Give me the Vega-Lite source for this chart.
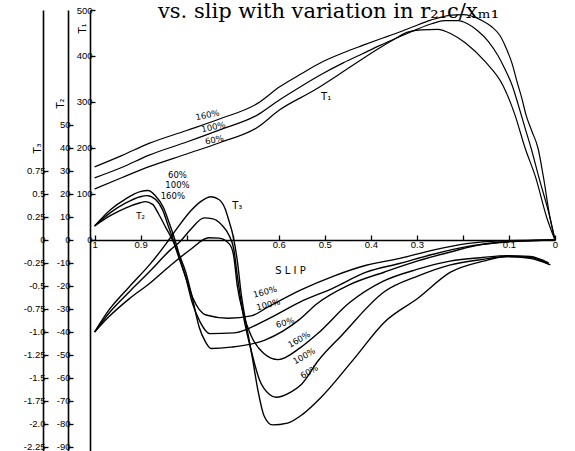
{
  "$schema": "https://vega.github.io/schema/vega-lite/v6.json",
  "width": 465,
  "height": 441,
  "autosize": {"type": "none"},
  "padding": {"left": 90, "top": 10, "right": 20, "bottom": 0},
  "background": "white",
  "config": {
    "view": {"stroke": null},
    "axis": {"domainColor": "black", "tickColor": "black", "labelColor": "black", "titleColor": "black", "labelFont": "Liberation Sans", "titleFont": "DejaVu Sans", "labelFontSize": 9.5, "grid": false, "domainWidth": 1.6, "tickWidth": 1.3},
    "text": {"font": "DejaVu Sans", "fontSize": 8.5, "color": "black"}
  },
  "title": {"text": "vs. slip with variation in r₂₁c/xₘ₁", "font": "DejaVu Serif", "fontSize": 21, "fontWeight": "normal", "color": "black", "anchor": "middle", "offset": -17, "dx": 6},
  "datasets": {
    "upper": [
      {"pct": "160%", "slip": 1.0, "T1": 159}, {"pct": "160%", "slip": 0.94, "T1": 184}, {"pct": "160%", "slip": 0.882, "T1": 210}, {"pct": "160%", "slip": 0.8, "T1": 238}, {"pct": "160%", "slip": 0.726, "T1": 264}, {"pct": "160%", "slip": 0.646, "T1": 297}, {"pct": "160%", "slip": 0.598, "T1": 333}, {"pct": "160%", "slip": 0.55, "T1": 362}, {"pct": "160%", "slip": 0.504, "T1": 388}, {"pct": "160%", "slip": 0.46, "T1": 407}, {"pct": "160%", "slip": 0.418, "T1": 423}, {"pct": "160%", "slip": 0.38, "T1": 437}, {"pct": "160%", "slip": 0.346, "T1": 449}, {"pct": "160%", "slip": 0.31, "T1": 463}, {"pct": "160%", "slip": 0.27, "T1": 478}, {"pct": "160%", "slip": 0.225, "T1": 489}, {"pct": "160%", "slip": 0.2, "T1": 490}, {"pct": "160%", "slip": 0.182, "T1": 487}, {"pct": "160%", "slip": 0.16, "T1": 478}, {"pct": "160%", "slip": 0.138, "T1": 464}, {"pct": "160%", "slip": 0.12, "T1": 445}, {"pct": "160%", "slip": 0.106, "T1": 417}, {"pct": "160%", "slip": 0.093, "T1": 383}, {"pct": "160%", "slip": 0.083, "T1": 346}, {"pct": "160%", "slip": 0.072, "T1": 308}, {"pct": "160%", "slip": 0.063, "T1": 272}, {"pct": "160%", "slip": 0.05, "T1": 236}, {"pct": "160%", "slip": 0.037, "T1": 200}, {"pct": "160%", "slip": 0.025, "T1": 136}, {"pct": "160%", "slip": 0.011, "T1": 49}, {"pct": "160%", "slip": 0.0, "T1": 0},
      {"pct": "100%", "slip": 1.0, "T1": 135}, {"pct": "100%", "slip": 0.94, "T1": 158}, {"pct": "100%", "slip": 0.883, "T1": 184}, {"pct": "100%", "slip": 0.8, "T1": 213}, {"pct": "100%", "slip": 0.727, "T1": 240}, {"pct": "100%", "slip": 0.646, "T1": 272}, {"pct": "100%", "slip": 0.598, "T1": 305}, {"pct": "100%", "slip": 0.55, "T1": 335}, {"pct": "100%", "slip": 0.504, "T1": 362}, {"pct": "100%", "slip": 0.46, "T1": 385}, {"pct": "100%", "slip": 0.418, "T1": 405}, {"pct": "100%", "slip": 0.38, "T1": 423}, {"pct": "100%", "slip": 0.346, "T1": 438}, {"pct": "100%", "slip": 0.3, "T1": 458}, {"pct": "100%", "slip": 0.268, "T1": 470}, {"pct": "100%", "slip": 0.24, "T1": 477}, {"pct": "100%", "slip": 0.21, "T1": 477}, {"pct": "100%", "slip": 0.19, "T1": 470}, {"pct": "100%", "slip": 0.168, "T1": 455}, {"pct": "100%", "slip": 0.145, "T1": 432}, {"pct": "100%", "slip": 0.124, "T1": 401}, {"pct": "100%", "slip": 0.108, "T1": 370}, {"pct": "100%", "slip": 0.093, "T1": 336}, {"pct": "100%", "slip": 0.076, "T1": 281}, {"pct": "100%", "slip": 0.064, "T1": 240}, {"pct": "100%", "slip": 0.052, "T1": 200}, {"pct": "100%", "slip": 0.035, "T1": 136}, {"pct": "100%", "slip": 0.011, "T1": 49}, {"pct": "100%", "slip": 0.0, "T1": 0},
      {"pct": "60%", "slip": 1.0, "T1": 111}, {"pct": "60%", "slip": 0.94, "T1": 136}, {"pct": "60%", "slip": 0.88, "T1": 160}, {"pct": "60%", "slip": 0.8, "T1": 187}, {"pct": "60%", "slip": 0.727, "T1": 212}, {"pct": "60%", "slip": 0.646, "T1": 245}, {"pct": "60%", "slip": 0.598, "T1": 283}, {"pct": "60%", "slip": 0.524, "T1": 325}, {"pct": "60%", "slip": 0.454, "T1": 370}, {"pct": "60%", "slip": 0.39, "T1": 412}, {"pct": "60%", "slip": 0.35, "T1": 436}, {"pct": "60%", "slip": 0.32, "T1": 452}, {"pct": "60%", "slip": 0.29, "T1": 457}, {"pct": "60%", "slip": 0.255, "T1": 458}, {"pct": "60%", "slip": 0.225, "T1": 448}, {"pct": "60%", "slip": 0.195, "T1": 429}, {"pct": "60%", "slip": 0.151, "T1": 387}, {"pct": "60%", "slip": 0.113, "T1": 336}, {"pct": "60%", "slip": 0.087, "T1": 272}, {"pct": "60%", "slip": 0.065, "T1": 200}, {"pct": "60%", "slip": 0.042, "T1": 136}, {"pct": "60%", "slip": 0.018, "T1": 49}, {"pct": "60%", "slip": 0.0, "T1": 0}
    ],
    "upperLabels": [
      {"kind": "tilt", "label": "160%", "slip": 0.755, "T1": 272},
      {"kind": "tilt", "label": "100%", "slip": 0.742, "T1": 246},
      {"kind": "tilt", "label": "60%", "slip": 0.74, "T1": 218},
      {"kind": "flat", "label": "T₁", "slip": 0.497, "T1": 310}
    ],
    "familyA": [
      {"pct": "60%", "slip": 1.0, "T2": 6.1}, {"pct": "60%", "slip": 0.965, "T2": 13.3}, {"pct": "60%", "slip": 0.933, "T2": 17.8}, {"pct": "60%", "slip": 0.901, "T2": 21}, {"pct": "60%", "slip": 0.884, "T2": 21.5}, {"pct": "60%", "slip": 0.869, "T2": 19.5}, {"pct": "60%", "slip": 0.85, "T2": 13.9}, {"pct": "60%", "slip": 0.838, "T2": 7.4}, {"pct": "60%", "slip": 0.827, "T2": 1}, {"pct": "60%", "slip": 0.817, "T2": -5.7}, {"pct": "60%", "slip": 0.802, "T2": -14}, {"pct": "60%", "slip": 0.788, "T2": -25}, {"pct": "60%", "slip": 0.773, "T2": -37.8}, {"pct": "60%", "slip": 0.76, "T2": -44}, {"pct": "60%", "slip": 0.747, "T2": -47.2}, {"pct": "60%", "slip": 0.704, "T2": -46.6}, {"pct": "60%", "slip": 0.63, "T2": -43.5}, {"pct": "60%", "slip": 0.554, "T2": -34.4}, {"pct": "60%", "slip": 0.517, "T2": -27.7}, {"pct": "60%", "slip": 0.447, "T2": -19.5}, {"pct": "60%", "slip": 0.37, "T2": -13.9}, {"pct": "60%", "slip": 0.298, "T2": -9.1}, {"pct": "60%", "slip": 0.227, "T2": -5.2}, {"pct": "60%", "slip": 0.156, "T2": -1.8}, {"pct": "60%", "slip": 0.076, "T2": -0.4}, {"pct": "60%", "slip": 0.0, "T2": 0},
      {"pct": "100%", "slip": 1.0, "T2": 6.1}, {"pct": "100%", "slip": 0.965, "T2": 12}, {"pct": "100%", "slip": 0.933, "T2": 16}, {"pct": "100%", "slip": 0.901, "T2": 18.8}, {"pct": "100%", "slip": 0.886, "T2": 19.3}, {"pct": "100%", "slip": 0.868, "T2": 17.7}, {"pct": "100%", "slip": 0.852, "T2": 13}, {"pct": "100%", "slip": 0.84, "T2": 6.1}, {"pct": "100%", "slip": 0.829, "T2": 0}, {"pct": "100%", "slip": 0.817, "T2": -6.9}, {"pct": "100%", "slip": 0.802, "T2": -16.3}, {"pct": "100%", "slip": 0.788, "T2": -27.2}, {"pct": "100%", "slip": 0.771, "T2": -35.6}, {"pct": "100%", "slip": 0.75, "T2": -40.7}, {"pct": "100%", "slip": 0.697, "T2": -40.4}, {"pct": "100%", "slip": 0.628, "T2": -34.8}, {"pct": "100%", "slip": 0.554, "T2": -27}, {"pct": "100%", "slip": 0.483, "T2": -21}, {"pct": "100%", "slip": 0.41, "T2": -14}, {"pct": "100%", "slip": 0.338, "T2": -10.2}, {"pct": "100%", "slip": 0.265, "T2": -6.2}, {"pct": "100%", "slip": 0.192, "T2": -2.9}, {"pct": "100%", "slip": 0.12, "T2": -1.1}, {"pct": "100%", "slip": 0.0, "T2": 0},
      {"pct": "160%", "slip": 1.0, "T2": 6.1}, {"pct": "160%", "slip": 0.965, "T2": 10.7}, {"pct": "160%", "slip": 0.933, "T2": 13.9}, {"pct": "160%", "slip": 0.901, "T2": 16.2}, {"pct": "160%", "slip": 0.89, "T2": 16.7}, {"pct": "160%", "slip": 0.874, "T2": 15.5}, {"pct": "160%", "slip": 0.861, "T2": 11.3}, {"pct": "160%", "slip": 0.845, "T2": 5.3}, {"pct": "160%", "slip": 0.829, "T2": -0.8}, {"pct": "160%", "slip": 0.817, "T2": -7.6}, {"pct": "160%", "slip": 0.802, "T2": -16.3}, {"pct": "160%", "slip": 0.787, "T2": -25}, {"pct": "160%", "slip": 0.758, "T2": -32.6}, {"pct": "160%", "slip": 0.71, "T2": -34}, {"pct": "160%", "slip": 0.66, "T2": -33}, {"pct": "160%", "slip": 0.624, "T2": -29.2}, {"pct": "160%", "slip": 0.553, "T2": -21.8}, {"pct": "160%", "slip": 0.482, "T2": -15.8}, {"pct": "160%", "slip": 0.41, "T2": -11}, {"pct": "160%", "slip": 0.337, "T2": -8}, {"pct": "160%", "slip": 0.265, "T2": -4.4}, {"pct": "160%", "slip": 0.192, "T2": -1.6}, {"pct": "160%", "slip": 0.12, "T2": -0.4}, {"pct": "160%", "slip": 0.0, "T2": 0}
    ],
    "labelsA": [
      {"kind": "flat", "label": "60%", "slip": 0.82, "T2": 28.4},
      {"kind": "flat", "label": "100%", "slip": 0.82, "T2": 24.1},
      {"kind": "flat", "label": "160%", "slip": 0.83, "T2": 19.3},
      {"kind": "flat", "label": "T₂", "slip": 0.9, "T2": 10.6},
      {"kind": "tilt", "label": "160%", "slip": 0.63, "T2": -22.5},
      {"kind": "tilt", "label": "100%", "slip": 0.623, "T2": -28},
      {"kind": "tilt", "label": "60%", "slip": 0.586, "T2": -35.9}
    ],
    "familyB": [
      {"pct": "60%", "slip": 1.0, "Tx": -1.0}, {"pct": "60%", "slip": 0.968, "Tx": -0.755}, {"pct": "60%", "slip": 0.925, "Tx": -0.51}, {"pct": "60%", "slip": 0.88, "Tx": -0.265}, {"pct": "60%", "slip": 0.845, "Tx": -0.043}, {"pct": "60%", "slip": 0.823, "Tx": 0.112}, {"pct": "60%", "slip": 0.79, "Tx": 0.323}, {"pct": "60%", "slip": 0.769, "Tx": 0.42}, {"pct": "60%", "slip": 0.747, "Tx": 0.47}, {"pct": "60%", "slip": 0.73, "Tx": 0.44}, {"pct": "60%", "slip": 0.717, "Tx": 0.345}, {"pct": "60%", "slip": 0.708, "Tx": 0.205}, {"pct": "60%", "slip": 0.699, "Tx": 0.04}, {"pct": "60%", "slip": 0.69, "Tx": -0.228}, {"pct": "60%", "slip": 0.681, "Tx": -0.608}, {"pct": "60%", "slip": 0.67, "Tx": -0.935}, {"pct": "60%", "slip": 0.658, "Tx": -1.26}, {"pct": "60%", "slip": 0.645, "Tx": -1.64}, {"pct": "60%", "slip": 0.632, "Tx": -1.91}, {"pct": "60%", "slip": 0.614, "Tx": -2.01}, {"pct": "60%", "slip": 0.581, "Tx": -1.99}, {"pct": "60%", "slip": 0.547, "Tx": -1.89}, {"pct": "60%", "slip": 0.51, "Tx": -1.72}, {"pct": "60%", "slip": 0.438, "Tx": -1.3}, {"pct": "60%", "slip": 0.37, "Tx": -0.89}, {"pct": "60%", "slip": 0.297, "Tx": -0.63}, {"pct": "60%", "slip": 0.227, "Tx": -0.35}, {"pct": "60%", "slip": 0.156, "Tx": -0.23}, {"pct": "60%", "slip": 0.104, "Tx": -0.18}, {"pct": "60%", "slip": 0.054, "Tx": -0.2}, {"pct": "60%", "slip": 0.01, "Tx": -0.27},
      {"pct": "100%", "slip": 1.0, "Tx": -1.0}, {"pct": "100%", "slip": 0.968, "Tx": -0.79}, {"pct": "100%", "slip": 0.925, "Tx": -0.565}, {"pct": "100%", "slip": 0.88, "Tx": -0.34}, {"pct": "100%", "slip": 0.836, "Tx": -0.11}, {"pct": "100%", "slip": 0.813, "Tx": -0.01}, {"pct": "100%", "slip": 0.791, "Tx": 0.116}, {"pct": "100%", "slip": 0.762, "Tx": 0.24}, {"pct": "100%", "slip": 0.743, "Tx": 0.23}, {"pct": "100%", "slip": 0.725, "Tx": 0.17}, {"pct": "100%", "slip": 0.707, "Tx": 0.04}, {"pct": "100%", "slip": 0.698, "Tx": -0.09}, {"pct": "100%", "slip": 0.69, "Tx": -0.39}, {"pct": "100%", "slip": 0.677, "Tx": -0.82}, {"pct": "100%", "slip": 0.66, "Tx": -1.2}, {"pct": "100%", "slip": 0.642, "Tx": -1.52}, {"pct": "100%", "slip": 0.62, "Tx": -1.68}, {"pct": "100%", "slip": 0.606, "Tx": -1.71}, {"pct": "100%", "slip": 0.573, "Tx": -1.65}, {"pct": "100%", "slip": 0.551, "Tx": -1.57}, {"pct": "100%", "slip": 0.514, "Tx": -1.31}, {"pct": "100%", "slip": 0.464, "Tx": -1.04}, {"pct": "100%", "slip": 0.37, "Tx": -0.56}, {"pct": "100%", "slip": 0.297, "Tx": -0.39}, {"pct": "100%", "slip": 0.227, "Tx": -0.27}, {"pct": "100%", "slip": 0.156, "Tx": -0.21}, {"pct": "100%", "slip": 0.104, "Tx": -0.18}, {"pct": "100%", "slip": 0.054, "Tx": -0.19}, {"pct": "100%", "slip": 0.014, "Tx": -0.26},
      {"pct": "160%", "slip": 1.0, "Tx": -1.0}, {"pct": "160%", "slip": 0.968, "Tx": -0.83}, {"pct": "160%", "slip": 0.925, "Tx": -0.64}, {"pct": "160%", "slip": 0.88, "Tx": -0.47}, {"pct": "160%", "slip": 0.836, "Tx": -0.28}, {"pct": "160%", "slip": 0.791, "Tx": -0.1}, {"pct": "160%", "slip": 0.752, "Tx": 0.025}, {"pct": "160%", "slip": 0.73, "Tx": 0.02}, {"pct": "160%", "slip": 0.707, "Tx": -0.045}, {"pct": "160%", "slip": 0.698, "Tx": -0.17}, {"pct": "160%", "slip": 0.69, "Tx": -0.5}, {"pct": "160%", "slip": 0.677, "Tx": -0.8}, {"pct": "160%", "slip": 0.66, "Tx": -1.04}, {"pct": "160%", "slip": 0.633, "Tx": -1.23}, {"pct": "160%", "slip": 0.601, "Tx": -1.3}, {"pct": "160%", "slip": 0.553, "Tx": -1.17}, {"pct": "160%", "slip": 0.516, "Tx": -1.02}, {"pct": "160%", "slip": 0.446, "Tx": -0.68}, {"pct": "160%", "slip": 0.374, "Tx": -0.45}, {"pct": "160%", "slip": 0.3, "Tx": -0.32}, {"pct": "160%", "slip": 0.228, "Tx": -0.23}, {"pct": "160%", "slip": 0.157, "Tx": -0.19}, {"pct": "160%", "slip": 0.104, "Tx": -0.17}, {"pct": "160%", "slip": 0.054, "Tx": -0.18}, {"pct": "160%", "slip": 0.014, "Tx": -0.25}
    ],
    "labelsB": [
      {"kind": "flat", "label": "T₃", "slip": 0.69, "Tx": 0.37},
      {"kind": "tilt", "label": "160%", "slip": 0.556, "Tx": -1.08},
      {"kind": "tilt", "label": "100%", "slip": 0.545, "Tx": -1.26},
      {"kind": "tilt", "label": "60%", "slip": 0.534, "Tx": -1.43}
    ]
  },
  "encoding": {
    "x": {
      "field": "slip",
      "type": "quantitative",
      "scale": {"domain": [1.01, 0], "nice": false, "zero": false},
      "axis": {
        "values": [1, 0.9, 0.8, 0.7, 0.6, 0.5, 0.4, 0.3, 0.2, 0.1, 0],
        "labelExpr": "indexof([0.8, 0.7, 0.2], datum.value) >= 0 ? '' : '' + datum.value",
        "offset": -211,
        "tickSize": -5,
        "labelPadding": 4,
        "labelFlush": false,
        "title": "S L I P",
        "titleX": 200,
        "titleY": 25,
        "titleFontSize": 10,
        "titleFontWeight": "normal",
        "domainWidth": 1.3
      }
    }
  },
  "layer": [
    {
      "encoding": {
        "y": {
          "field": "T1",
          "type": "quantitative",
          "scale": {"domain": [-458.7, 500], "nice": false, "zero": false},
          "axis": {"orient": "left", "offset": 0, "values": [0, 100, 200, 300, 400, 500], "labelExpr": "'' + datum.value", "tickSize": -5, "labelPadding": 3, "title": "T₁", "titleX": -8, "titleY": 18, "titleFontSize": 10, "titleFontWeight": "normal", "titleAlign": "center", "titleBaseline": "middle"}
        }
      },
      "layer": [
        {"data": {"name": "upper"}, "mark": {"type": "line", "color": "black", "strokeWidth": 1.2, "interpolate": "monotone"}, "encoding": {"detail": {"field": "pct"}}},
        {"data": {"name": "upperLabels"}, "transform": [{"filter": "datum.kind == 'tilt'"}], "mark": {"type": "text", "angle": 348}, "encoding": {"text": {"field": "label"}}},
        {"data": {"name": "upperLabels"}, "transform": [{"filter": "datum.kind == 'flat'"}], "mark": {"type": "text", "fontSize": 10}, "encoding": {"text": {"field": "label"}}}
      ]
    },
    {
      "encoding": {
        "y": {
          "field": "T2",
          "type": "quantitative",
          "scale": {"domain": [-91.74, 100], "nice": false, "zero": false},
          "axis": {"orient": "left", "offset": 22, "values": [50, 40, 30, 20, 10, 0, -10, -20, -30, -40, -50, -60, -70, -80, -90], "labelExpr": "'' + datum.value", "tickSize": -5, "labelPadding": 3, "title": "T₂", "titleX": -8, "titleY": 93, "titleFontSize": 10, "titleFontWeight": "normal", "titleAlign": "center", "titleBaseline": "middle"}
        }
      },
      "layer": [
        {"data": {"name": "familyA"}, "mark": {"type": "line", "color": "black", "strokeWidth": 1.4, "interpolate": "monotone"}, "encoding": {"detail": {"field": "pct"}}},
        {"data": {"name": "labelsA"}, "transform": [{"filter": "datum.kind == 'tilt'"}], "mark": {"type": "text", "angle": 345}, "encoding": {"text": {"field": "label"}}},
        {"data": {"name": "labelsA"}, "transform": [{"filter": "datum.kind == 'flat'"}], "mark": {"type": "text"}, "encoding": {"text": {"field": "label"}}}
      ]
    },
    {
      "encoding": {
        "y": {
          "field": "Tx",
          "type": "quantitative",
          "scale": {"domain": [-2.2935, 2.5], "nice": false, "zero": false},
          "axis": {"orient": "left", "offset": 47, "values": [0.75, 0.5, 0.25, 0, -0.25, -0.5, -0.75, -1, -1.25, -1.5, -1.75, -2, -2.25], "labelExpr": "datum.value == -1 ? '-1.0' : datum.value == -2 ? '-2.0' : '' + datum.value", "tickSize": -5, "labelPadding": 3, "title": "T₃", "titleX": -6, "titleY": 138, "titleFontSize": 10, "titleFontWeight": "normal", "titleAlign": "center", "titleBaseline": "middle"}
        }
      },
      "layer": [
        {"data": {"name": "familyB"}, "mark": {"type": "line", "color": "black", "strokeWidth": 1.4, "interpolate": "monotone"}, "encoding": {"detail": {"field": "pct"}}},
        {"data": {"name": "labelsB"}, "transform": [{"filter": "datum.kind == 'tilt'"}], "mark": {"type": "text", "angle": 330}, "encoding": {"text": {"field": "label"}}},
        {"data": {"name": "labelsB"}, "transform": [{"filter": "datum.kind == 'flat'"}], "mark": {"type": "text", "fontSize": 10}, "encoding": {"text": {"field": "label"}}}
      ]
    }
  ],
  "resolve": {"scale": {"y": "independent"}, "axis": {"y": "independent"}}
}
